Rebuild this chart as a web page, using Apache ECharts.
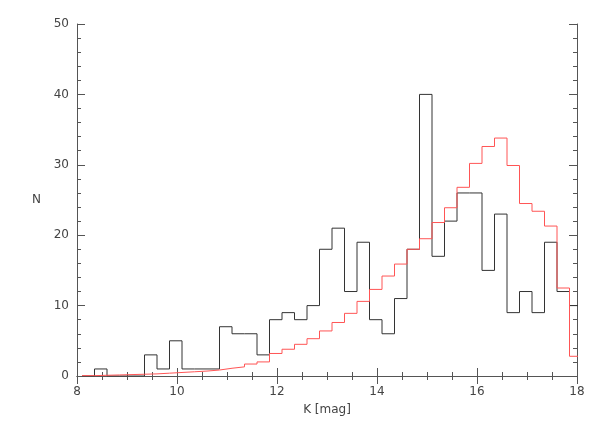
<!DOCTYPE html><html><head><meta charset="utf-8"><script src="https://cdn.jsdelivr.net/npm/echarts@6/dist/echarts.min.js"></script></head><body style="margin:0"><div id="c" style="width:598px;height:428px"></div><script>
var binStart=8.1, binWidth=0.25;
var blackCounts=[0,1,0,0,0,3,1,5,1,1,1,7,6,6,3,8,9,8,10,18,21,12,19,8,6,11,18,40,17,22,26,26,15,23,9,12,9,19,12,10];
var redCounts=[0.05,0.1,0.15,0.2,0.25,0.3,0.4,0.5,0.6,0.7,0.85,1.1,1.3,1.7,2.0,3.2,3.8,4.5,5.3,6.4,7.6,8.9,10.6,12.3,14.2,15.9,18.0,19.5,21.8,23.9,26.8,30.2,32.6,33.8,29.9,24.5,23.4,21.3,12.5,2.8];
function steps(v){var d=[];for(var i=0;i<v.length;i++)d.push([+(binStart+i*binWidth).toFixed(2),v[i]]);d.push([+(binStart+v.length*binWidth).toFixed(2),v[v.length-1]]);return d;}
var lab={color:'#444',fontSize:12,fontFamily:'DejaVu Sans'};
function xa(show,pos){return {type:'value',min:8,max:18,interval:2,position:pos,axisLine:{show:true,lineStyle:{color:'#555'}},axisTick:{inside:true,length:8,lineStyle:{color:'#555'}},minorTick:{show:true,splitNumber:4,length:4,lineStyle:{color:'#555'}},splitLine:{show:false},axisLabel:{show:show,margin:10,...lab},name:show?'K [mag]':'',nameLocation:'middle',nameGap:28,nameTextStyle:lab};}
function ya(show,pos){return {type:'value',min:0,max:50,interval:10,position:pos,axisLine:{show:true,lineStyle:{color:'#555'}},axisTick:{inside:true,length:8,lineStyle:{color:'#555'}},minorTick:{show:true,splitNumber:5,length:4,lineStyle:{color:'#555'}},splitLine:{show:false},axisLabel:{show:show,margin:8,...lab},name:show?'N':'',nameLocation:'middle',nameGap:36,nameRotate:0,nameTextStyle:lab};}
var ch=echarts.init(document.getElementById('c'));
ch.setOption({animation:false,grid:{left:77,right:21,top:24,bottom:52},
xAxis:[xa(true,'bottom'),xa(false,'top')],yAxis:[ya(true,'left'),ya(false,'right')],
series:[
{type:'line',step:'end',data:steps(blackCounts),symbol:'none',lineStyle:{color:'#333',width:1},clip:true},
{type:'line',step:'end',data:steps(redCounts),symbol:'none',lineStyle:{color:'#f55',width:1},clip:true}
]});
</script></body></html>
